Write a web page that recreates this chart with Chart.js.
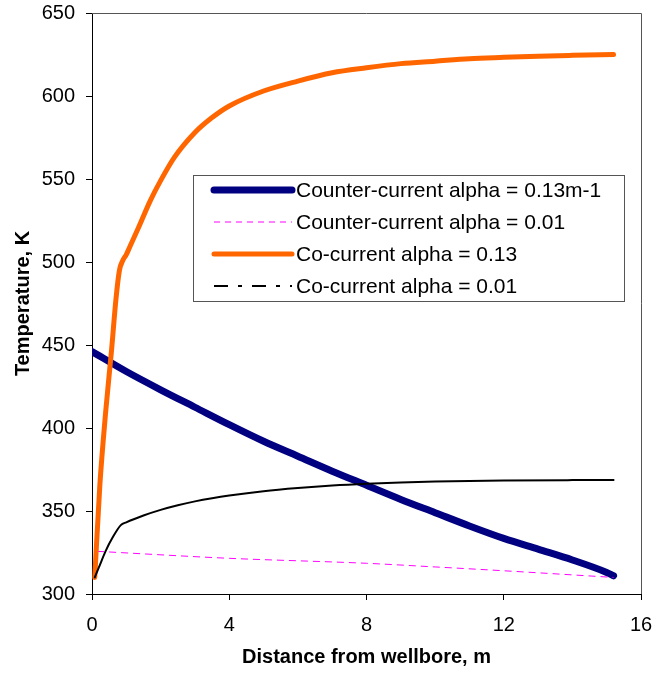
<!DOCTYPE html>
<html>
<head>
<meta charset="utf-8">
<script src="https://cdn.jsdelivr.net/npm/chart.js@4/dist/chart.umd.min.js"></script>
<style>
  html, body { margin: 0; padding: 0; background: #fff; }
  #wrap { width: 666px; height: 673px; position: relative; }
</style>
</head>
<body>
<div id="wrap"><canvas id="chart"></canvas></div>
<script>
// values (distance in m, temperature in K)
const seriesLabels = [
  'Counter-current alpha = 0.13m-1',
  'Counter-current alpha = 0.01',
  'Co-current alpha = 0.13',
  'Co-current alpha = 0.01',
];

const counterHighX = [0, 1, 2, 3, 4, 5, 6, 7, 8, 9, 10, 11, 12, 13, 14, 15, 15.2];
const counterHighT = [446, 434, 423, 412.5, 402, 392, 383, 374, 365.5, 357, 349, 341, 333.5, 327, 320.5, 313, 311];

const counterLowX = [0.15, 4, 8, 10, 12, 15.2];
const counterLowT = [325.7, 321.5, 318.5, 316.3, 314, 310];

const coHighX = [0.08, 0.23, 0.4, 0.57, 0.7, 0.8, 0.9, 1.0, 1.1, 1.34, 1.7, 2, 2.4, 3, 3.5, 4, 5, 6, 7, 8, 9, 10, 11, 12, 13, 14, 15.2];
const coHighT = [310, 366, 410, 447, 478, 495, 501, 504.5, 509, 520, 537, 549, 563, 578, 587, 594, 603, 609, 614, 617, 619.5, 621, 622.5, 623.3, 624, 624.5, 625];

const coLowX = [0.08, 0.2, 0.4, 0.6, 0.84, 1.0, 1.5, 2, 2.5, 3, 3.5, 4, 5, 6, 7, 8, 9, 10, 12, 14, 15.2];
const coLowT = [310, 316, 326, 334, 341.5, 343.2, 347.3, 350.7, 353.5, 355.8, 357.7, 359.3, 361.9, 363.8, 365.3, 366.4, 367.2, 367.7, 368.3, 368.6, 368.7];

const xTicks = [0, 4, 8, 12, 16];
const yTicks = [300, 350, 400, 450, 500, 550, 600, 650];

const FONT = '"Liberation Sans", Arial, sans-serif';

const pts = (xs, ys) => xs.map((x, i) => ({ x, y: ys[i] }));

// legend sits inside the plot, so draw it ourselves
const boxLegend = {
  id: 'boxLegend',
  afterDraw(chart) {
    const ctx = chart.ctx;
    const left = 193, top = 175, w = 431, h = 126;
    ctx.save();
    ctx.fillStyle = '#fff';
    ctx.fillRect(left, top, w, h);
    ctx.strokeStyle = '#555';
    ctx.lineWidth = 1;
    ctx.strokeRect(left + 0.5, top + 0.5, w, h);
    ctx.font = '21px ' + FONT;
    ctx.textBaseline = 'middle';
    ctx.fillStyle = '#000';
    const dashes = [[], [6, 5], [], [14, 10, 4, 10]];
    chart.data.datasets.forEach((ds, i) => {
      const y = top + 15 + i * 32;
      ctx.beginPath();
      ctx.setLineDash(dashes[i]);
      ctx.lineCap = ds.borderWidth > 3 ? 'round' : 'butt';
      ctx.strokeStyle = ds.borderColor;
      ctx.lineWidth = ds.borderWidth;
      ctx.moveTo(214, y);
      ctx.lineTo(292, y);
      ctx.stroke();
      ctx.setLineDash([]);
      ctx.fillText(ds.label, 296, y + 1);
    });
    ctx.restore();
  },
};

const frame = {
  id: 'frame',
  beforeDatasetsDraw(chart) {
    const { ctx, chartArea: a } = chart;
    ctx.save();
    ctx.strokeStyle = '#555';
    ctx.lineWidth = 1;
    ctx.beginPath();
    ctx.moveTo(a.left, a.top + 0.5);
    ctx.lineTo(a.right + 0.5, a.top + 0.5);
    ctx.lineTo(a.right + 0.5, a.bottom);
    ctx.stroke();
    ctx.restore();
  },
};

const line = (label, data, color, width, extra) => Object.assign({
  label,
  data,
  borderColor: color,
  backgroundColor: color,
  borderWidth: width,
  pointRadius: 0,
  fill: false,
  cubicInterpolationMode: 'monotone',
  borderCapStyle: 'round',
}, extra);

const noPad = (s) => {
  s.paddingTop = 0; s.paddingBottom = 0; s.paddingLeft = 0; s.paddingRight = 0;
};

new Chart(document.getElementById('chart'), {
  type: 'line',
  data: {
    datasets: [
      line(seriesLabels[0], pts(counterHighX, counterHighT), '#000080', 7, { order: 4 }),
      line(seriesLabels[1], pts(counterLowX, counterLowT), '#ff00ff', 1, { order: 3, borderDash: [7, 5], borderCapStyle: 'butt' }),
      line(seriesLabels[2], pts(coHighX, coHighT), '#ff6600', 5, { order: 2 }),
      line(seriesLabels[3], pts(coLowX, coLowT), '#000000', 2, { order: 1 }),
    ],
  },
  options: {
    responsive: true,
    maintainAspectRatio: false,
    animation: false,
    layout: { padding: { top: 13, right: 25, left: 0, bottom: 0 } },
    plugins: { legend: { display: false }, tooltip: { enabled: false } },
    scales: {
      x: {
        type: 'linear',
        min: 0,
        max: 16,
        afterFit: (s) => { s.height = 79; noPad(s); },
        afterBuildTicks: (s) => { s.ticks = xTicks.map((v) => ({ value: v })); },
        grid: { drawOnChartArea: false, tickLength: 6, color: '#000' },
        border: { color: '#000', width: 1 },
        ticks: { color: '#000', font: { family: FONT, size: 20 }, padding: 13, maxRotation: 0 },
        title: { display: true, text: 'Distance from wellbore, m', color: '#000', font: { family: FONT, size: 20, weight: 'bold' }, padding: { top: 0, bottom: 4 } },
      },
      y: {
        min: 300,
        max: 650,
        afterFit: (s) => { s.width = 92; noPad(s); },
        afterBuildTicks: (s) => { s.ticks = yTicks.map((v) => ({ value: v })); },
        grid: { drawOnChartArea: false, tickLength: 6, color: '#000' },
        border: { color: '#000', width: 1 },
        ticks: { color: '#000', font: { family: FONT, size: 20 }, padding: 11 },
        title: { display: true, text: 'Temperature, K', color: '#000', font: { family: FONT, size: 20, weight: 'bold' }, padding: { top: 11, bottom: 0 } },
      },
    },
  },
  plugins: [frame, boxLegend],
});
</script>
</body>
</html>
